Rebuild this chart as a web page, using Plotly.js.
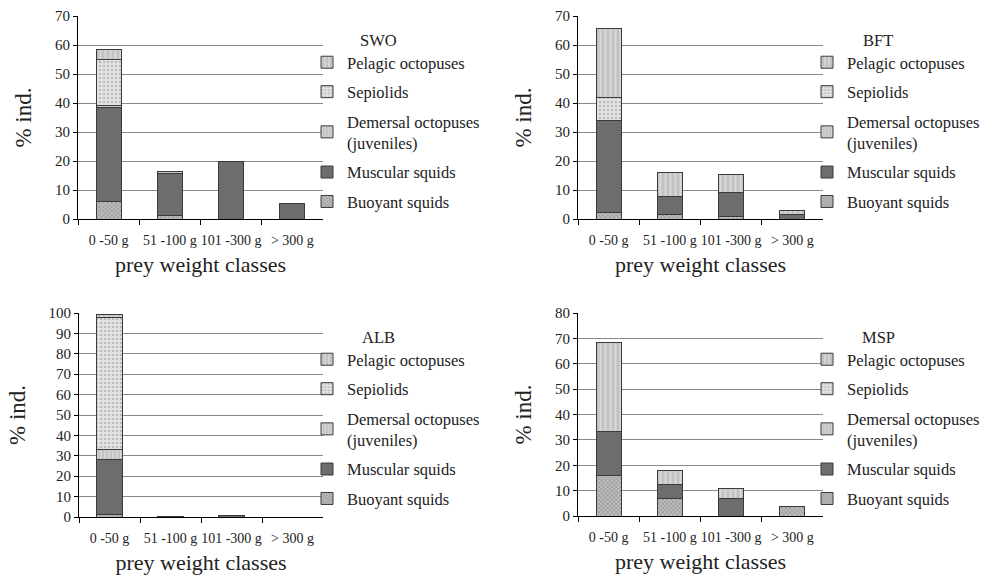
<!DOCTYPE html>
<html>
<head>
<meta charset="utf-8">
<script src="https://cdn.plot.ly/plotly-3.0.1.min.js"></script>
<style>html,body{margin:0;padding:0;background:#fff;}#chart{width:995px;height:575px;}</style>
</head>
<body>
<div id="chart"></div>
<script>
// ---- data ----
var categories = ['0 -50 g', '51 -100 g', '101 -300 g', '> 300 g'];
var seriesNames = ['Buoyant squids', 'Muscular squids', 'Demersal octopuses<br>(juveniles)', 'Sepiolids', 'Pelagic octopuses'];
var panelNames = ['SWO', 'BFT', 'ALB', 'MSP'];

// SWO
var swoBuoyant   = [6.0, 1.2, 0, 0];
var swoMuscular  = [32.5, 14.6, 19.7, 5.3];
var swoDemersal  = [0.5, 0, 0, 0];
var swoSepiolids = [16.0, 0, 0, 0];
var swoPelagic   = [3.5, 0.5, 0.3, 0];
// BFT
var bftBuoyant   = [2.2, 1.5, 0.7, 0];
var bftMuscular  = [31.8, 6.2, 8.6, 1.5];
var bftDemersal  = [0, 0, 0, 0];
var bftSepiolids = [8.0, 0, 0, 0];
var bftPelagic   = [23.8, 8.3, 5.9, 1.5];
// ALB
var albBuoyant   = [1.0, 0, 0, 0];
var albMuscular  = [27.0, 0.4, 0.8, 0];
var albDemersal  = [5.3, 0, 0, 0];
var albSepiolids = [64.7, 0, 0, 0];
var albPelagic   = [1.3, 0, 0, 0];
// MSP
var mspBuoyant   = [16.0, 7.0, 0, 3.6];
var mspMuscular  = [17.3, 5.5, 7.0, 0];
var mspDemersal  = [0, 0, 0, 0];
var mspSepiolids = [0, 0, 0, 0];
var mspPelagic   = [35.0, 5.3, 3.7, 0];

var yMax = [70, 70, 100, 80];

// ---- styles ----
var seriesStyle = [
  {color: '#a9a9a9', pattern: {shape: 'x', bgcolor: '#bdbdbd', fgcolor: '#8a8a8a', size: 3, solidity: 0.35}},
  {color: '#6d6d6d'},
  {color: '#c4c4c4', pattern: {shape: '|', bgcolor: '#c4c4c4', fgcolor: '#d6d6d6', size: 4, solidity: 0.4}},
  {color: '#e2e2e2', pattern: {shape: '.', bgcolor: '#e4e4e4', fgcolor: '#bcbcbc', size: 4, solidity: 0.35}},
  {color: '#c2c2c2', pattern: {shape: '|', bgcolor: '#c2c2c2', fgcolor: '#d8d8d8', size: 5, solidity: 0.4}}
];

var panelData = [
  [swoBuoyant, swoMuscular, swoDemersal, swoSepiolids, swoPelagic],
  [bftBuoyant, bftMuscular, bftDemersal, bftSepiolids, bftPelagic],
  [albBuoyant, albMuscular, albDemersal, albSepiolids, albPelagic],
  [mspBuoyant, mspMuscular, mspDemersal, mspSepiolids, mspPelagic]
];

var font = 'Liberation Serif';
var traces = [];
panelData.forEach(function (series, p) {
  var ax = p === 0 ? '' : String(p + 1);
  series.forEach(function (vals, s) {
    var st = seriesStyle[s];
    var marker = {color: st.color, line: {color: '#3a3a3a', width: 1}};
    if (st.pattern) marker.pattern = st.pattern;
    traces.push({
      type: 'bar',
      x: categories,
      y: vals,
      name: seriesNames[s],
      xaxis: 'x' + ax,
      yaxis: 'y' + ax,
      marker: marker,
      legend: p === 0 ? 'legend' : 'legend' + (p + 1),
      legendgroup: 'g' + p + '_' + s,
      legendrank: 1000 - s,
      hoverinfo: 'x+y+name'
    });
  });
});

var W = 995, H = 575;
var boxes = [
  {x0: 78, x1: 323, y0: 16, y1: 219},
  {x0: 578, x1: 823, y0: 16, y1: 219},
  {x0: 79, x1: 323, y0: 313, y1: 517},
  {x0: 578, x1: 823, y0: 313, y1: 516}
];

var layout = {
  width: W, height: H,
  margin: {l: 0, r: 0, t: 0, b: 0},
  paper_bgcolor: '#fff', plot_bgcolor: '#fff',
  barmode: 'stack',
  bargap: 0.59,
  showlegend: true,
  font: {family: font, color: '#222'},
  annotations: []
};

boxes.forEach(function (b, p) {
  var ax = p === 0 ? '' : String(p + 1);
  layout['xaxis' + ax] = {
    domain: [b.x0 / W, b.x1 / W],
    anchor: 'y' + ax,
    type: 'category',
    showline: true, linecolor: '#000', linewidth: 1,
    ticks: 'outside', ticklen: 5, tickcolor: '#000', tickson: 'boundaries',
    tickangle: 0,
    showgrid: false, zeroline: false,
    tickfont: {family: font, size: 14, color: '#222'},
    ticklabelstandoff: 8,
    title: {text: 'prey weight classes', font: {family: font, size: 22, color: '#222'}, standoff: 9},
    fixedrange: true
  };
  layout['yaxis' + ax] = {
    domain: [1 - b.y1 / H, 1 - b.y0 / H],
    anchor: 'x' + ax,
    range: [0, yMax[p]],
    dtick: 10,
    showline: true, linecolor: '#000', linewidth: 1,
    ticks: 'outside', ticklen: 4, tickcolor: '#000',
    showgrid: true, gridcolor: '#8a8a8a', gridwidth: 1,
    zeroline: false,
    tickfont: {family: font, size: 15, color: '#222'},
    title: {text: '% ind.', font: {family: font, size: 23, color: '#222'}, standoff: 16},
    fixedrange: true
  };
  var lg = p === 0 ? 'legend' : 'legend' + (p + 1);
  layout[lg] = {
    x: (b.x1 - 16) / W,
    y: 1 - (b.y0 + 29) / H,
    xanchor: 'left', yanchor: 'top',
    traceorder: 'grouped',
    tracegroupgap: 5,
    bgcolor: 'rgba(0,0,0,0)',
    font: {family: font, size: 16.5, color: '#222'},
    itemwidth: 30
  };
  layout.annotations.push({
    xref: 'paper', yref: 'paper',
    x: (b.x1 + 55) / W, y: 1 - (b.y0 + 24) / H,
    xanchor: 'center', yanchor: 'middle',
    text: panelNames[p], showarrow: false,
    font: {family: font, size: 16.5, color: '#222'}
  });
});

Plotly.newPlot('chart', traces, layout, {displayModeBar: false, staticPlot: true});
</script>
</body>
</html>
